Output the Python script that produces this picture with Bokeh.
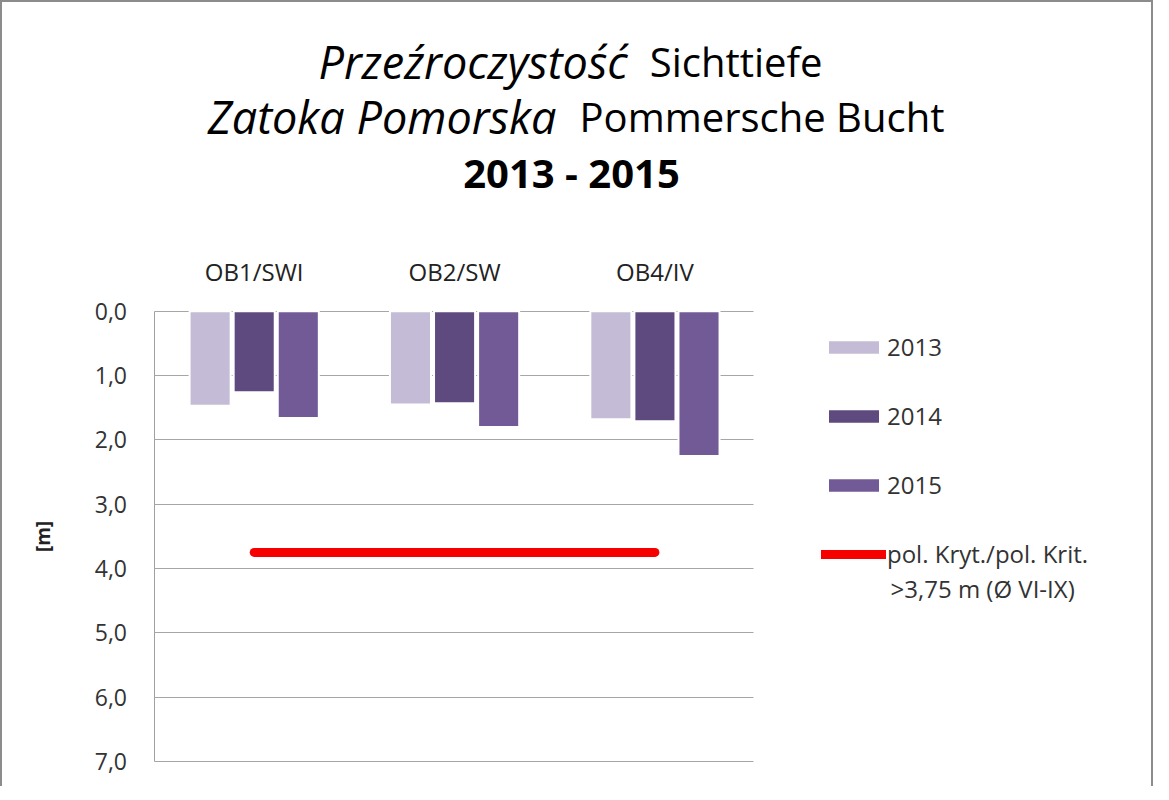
from bokeh.plotting import figure
from bokeh.models import (Range1d, FixedTicker, CustomJSTickFormatter, LinearAxis,
                          Legend, LegendItem, Label, ColumnDataSource)
from bokeh.embed import file_html
from bokeh.resources import INLINE

# ---- data ----
categories = ["OB1/SWI", "OB2/SW", "OB4/IV"]
years = ["2013", "2014", "2015"]
v2013 = [1.47, 1.45, 1.68]
v2014 = [1.26, 1.43, 1.71]
v2015 = [1.66, 1.80, 2.25]
threshold_value = 3.75
threshold_label_1 = "pol. Kryt./pol. Krit."
threshold_label_2 = ">3,75 m (Ø VI-IX)"
y_ticks = [0, 1, 2, 3, 4, 5, 6, 7]
y_label = "[m]"
title_lines = [("Przeźroczystość", "Sichttiefe"),
               ("Zatoka Pomorska", "Pommersche Bucht"),
               ("2013 - 2015", None)]

colors = ["#c4bcd6", "#5e4a7e", "#725a96"]
FONT = "Open Sans"

# ---- layout geometry (canvas pixels) ----
CW, CH = 1149, 784          # drawing area inside the css border
FL, FT = 151, 308           # plot area left / top
PW, PH = 599, 449           # plot area width / height
XU = PW / len(categories)
YU = PH / (y_ticks[-1] - y_ticks[0])

def dx(px):
    return (px - FL) / XU

def dy(py):
    return (py - FT) / YU + y_ticks[0]

cat_x = [i + 0.5 for i in range(len(categories))]
offsets = [-0.22, 0.0, 0.22]
src = ColumnDataSource(dict(
    x2013=[c + offsets[0] for c in cat_x], v2013=v2013,
    x2014=[c + offsets[1] for c in cat_x], v2014=v2014,
    x2015=[c + offsets[2] for c in cat_x], v2015=v2015))
thr_src = ColumnDataSource(dict(x=[cat_x[0], cat_x[-1]],
                                y=[threshold_value, threshold_value]))

p = figure(width=CW + 4, height=CH + 2, output_backend="svg", toolbar_location=None,
           x_range=Range1d(dx(0), dx(CW)), y_range=Range1d(dy(CH), dy(0)),
           x_axis_type=None, y_axis_type=None,
           min_border=0, min_border_left=0, min_border_right=0,
           min_border_top=0, min_border_bottom=0)
p.styles = {"border-left": "2px solid #8c8c8c", "border-top": "2px solid #8c8c8c",
            "border-right": "2px solid #8c8c8c"}
p.outline_line_color = None
p.background_fill_color = "white"
p.border_fill_color = "white"

# y axis (its long inner ticks act as the horizontal gridlines of the plot area)
yax = LinearAxis(ticker=FixedTicker(ticks=y_ticks),
                 formatter=CustomJSTickFormatter(code="return tick.toFixed(1).replace('.', ',');"),
                 fixed_location=0, bounds=(y_ticks[0], y_ticks[-1]), level="underlay")
yax.axis_line_color = "#a0a0a0"
yax.major_tick_in = PW
yax.major_tick_out = 0
yax.major_tick_line_color = "#a6a6a6"
yax.minor_tick_line_color = None
yax.major_label_text_font = FONT
yax.major_label_text_font_size = "23px"
yax.major_label_text_color = "#333333"
yax.major_label_standoff = 27
yax.axis_label = y_label
yax.axis_label_text_font = FONT
yax.axis_label_text_font_size = "19px"
yax.axis_label_text_font_style = "bold"
yax.axis_label_text_color = "#222222"
yax.axis_label_text_align = "left"
yax.axis_label_standoff = 36
p.add_layout(yax, "left")

# category axis on top of the plot area
xax = LinearAxis(ticker=FixedTicker(ticks=cat_x),
                 major_label_overrides=dict(zip(cat_x, categories)),
                 fixed_location=y_ticks[0], level="underlay")
xax.axis_line_color = None
xax.major_tick_line_color = None
xax.minor_tick_line_color = None
xax.major_label_text_font = FONT
xax.major_label_text_font_size = "24px"
xax.major_label_text_color = "#222222"
xax.major_label_standoff = 17
p.add_layout(xax, "above")

renderers = []
for yr, col in zip(years, colors):
    r = p.vbar(x="x" + yr, top=0, bottom="v" + yr, width=0.205, source=src,
               fill_color=col, line_color="white", line_width=2)
    renderers.append(r)

thr = p.line(x="x", y="y", source=thr_src, line_color="#f60000", line_width=9,
             line_cap="round")

# legend
items = [LegendItem(label=yr, renderers=[r]) for yr, r in zip(years, renderers)]
items.append(LegendItem(label=threshold_label_1, renderers=[thr]))
legend = Legend(items=items, location=(819, CH - 566), orientation="vertical",
                glyph_width=65, glyph_height=18, label_standoff=1, spacing=36,
                padding=0, margin=0, border_line_color=None,
                background_fill_alpha=0,
                label_text_font=FONT, label_text_font_size="24px",
                label_text_color="#333333")
p.add_layout(legend)

def lab(txt, px, py, align, style, size="40px", baseline="alphabetic", color="black"):
    p.add_layout(Label(x=dx(px), y=dy(py), text=txt, text_align=align,
                       text_baseline=baseline, text_font=FONT, text_font_size=size,
                       text_font_style=style, text_color=color))

# second line of the threshold legend entry
lab(threshold_label_2, 885, 585, "left", "normal", size="24px", baseline="middle",
    color="#333333")

# title
lab(title_lines[0][0], 623, 59, "right", "italic", size="45px")
lab(title_lines[0][1], 645, 59, "left", "normal")
lab(title_lines[1][0], 552, 114, "right", "italic", size="45px")
lab(title_lines[1][1], 575, 114, "left", "normal")
lab(title_lines[2][0], 567, 170, "center", "bold")

open("out.html", "w").write(file_html(p, INLINE))
